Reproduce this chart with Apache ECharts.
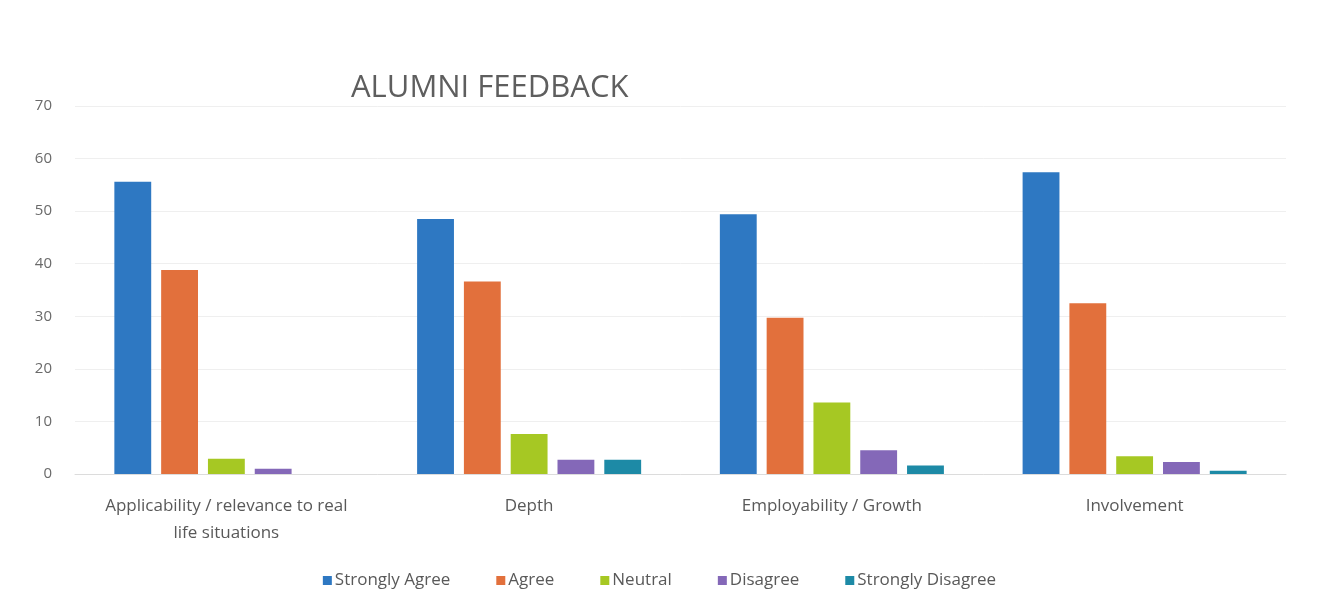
<!DOCTYPE html>
<html>
<head>
<meta charset="utf-8">
<title>Alumni Feedback</title>
<script src="https://cdn.jsdelivr.net/npm/echarts@6/dist/echarts.min.js"></script>
<style>
  html, body { margin: 0; padding: 0; background: #fff; }
  #main { width: 1319px; height: 615px; }
</style>
</head>
<body>
<div id="main"></div>
<script>
  // data
  const categories = [
    'Applicability / relevance to real\nlife situations',
    'Depth',
    'Employability / Growth',
    'Involvement'
  ];
  const seriesNames = ['Strongly Agree', 'Agree', 'Neutral', 'Disagree', 'Strongly Disagree'];
  const stronglyAgree = [55.6, 48.5, 49.4, 57.4];
  const agree = [38.8, 36.6, 29.7, 32.5];
  const neutral = [2.9, 7.6, 13.6, 3.4];
  const disagree = [1.0, 2.7, 4.5, 2.3];
  const stronglyDisagree = [0, 2.7, 1.6, 0.6];
  const colors = ['#2e78c2', '#e2703c', '#a6c823', '#8468b8', '#1d8aa6'];

  const values = [stronglyAgree, agree, neutral, disagree, stronglyDisagree];
  const font = '"Open Sans", "Noto Sans", sans-serif';

  let myChart = echarts.init(document.getElementById('main'));
  myChart.setOption({
    backgroundColor: '#fff',
    color: colors,
    title: {
      text: 'ALUMNI FEEDBACK',
      left: 346,
      top: 68,
      textStyle: {
        color: '#5e5e5e',
        fontFamily: font,
        fontWeight: 'normal',
        fontSize: 31
      }
    },
    legend: {
      data: seriesNames,
      bottom: 21,
      left: 'center',
      icon: 'rect',
      itemWidth: 9,
      itemHeight: 9,
      itemGap: 46,
      textStyle: {
        color: '#595959',
        fontFamily: font,
        fontSize: 17,
        padding: [0, 0, 0, -2]
      }
    },
    grid: {
      left: 75,
      right: 33,
      top: 106,
      bottom: 141,
      containLabel: false
    },
    xAxis: {
      type: 'category',
      data: categories,
      axisTick: { show: false },
      axisLine: { lineStyle: { color: '#dcdcdc', width: 1 } },
      axisLabel: {
        color: '#595959',
        fontFamily: font,
        fontSize: 17,
        margin: 19,
        lineHeight: 27,
        interval: 0
      }
    },
    yAxis: {
      type: 'value',
      min: 0,
      max: 70,
      interval: 10,
      axisLine: { show: false },
      axisTick: { show: false },
      axisLabel: {
        color: '#6a6a6a',
        fontFamily: font,
        fontSize: 15,
        margin: 23
      },
      splitLine: { lineStyle: { color: '#efefef', width: 1 } }
    },
    series: seriesNames.map((name, i) => ({
      name: name,
      type: 'bar',
      data: values[i],
      barGap: '27%',
      barCategoryGap: '26%'
    }))
  });
</script>
</body>
</html>
